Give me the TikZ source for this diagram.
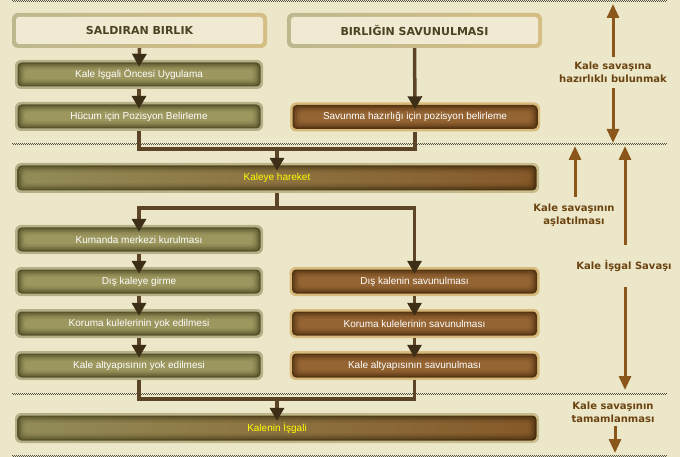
\documentclass[tikz,border=0pt]{standalone}
\usepackage{fontspec}
\setmainfont{Liberation Sans}
\newfontfamily\lblfont{DejaVu Sans}
\usetikzlibrary{arrows.meta}
\definecolor{bg}{HTML}{ECE7C9}
\definecolor{sepc}{HTML}{55554A}
\definecolor{hdrL}{HTML}{BDB88E}
\definecolor{hdrR}{HTML}{D5BD84}
\definecolor{hdrIn}{HTML}{EFEAD1}
\definecolor{hdrT}{HTML}{4A4424}
\definecolor{olB}{HTML}{B5B088}
\definecolor{olR}{HTML}{57532A}
\definecolor{olC}{HTML}{9C975E}
\definecolor{brB}{HTML}{D8BB7C}
\definecolor{brR}{HTML}{553412}
\definecolor{brC}{HTML}{946433}
\definecolor{barBL}{HTML}{B3AE86}
\definecolor{barBR}{HTML}{C9BC8C}
\definecolor{barRL}{HTML}{57532A}
\definecolor{barRR}{HTML}{4A300F}
\definecolor{barCL}{HTML}{928C57}
\definecolor{barCR}{HTML}{87592A}
\definecolor{cn}{HTML}{5C4426}
\definecolor{ah}{HTML}{3D2F17}
\definecolor{ra}{HTML}{8A561A}
\definecolor{lt}{HTML}{6B4310}
\definecolor{ylw}{HTML}{FFFF00}
\newcommand\glowfill[4]{%
  \foreach \i/\p in {2.5/0,4/30,5.5/55,7/75,8.5/90,10/100}{%
    \shade[left color=#2!\p!#1, right color=#4!\p!#3, rounded corners=4pt]
      ([xshift=\i pt,yshift=-\i pt]path picture bounding box.north west) rectangle
      ([xshift=-\i pt,yshift=\i pt]path picture bounding box.south east);}}
\tikzset{
  boxtxt/.style={text=white, font=\fontsize{10}{12}\selectfont},
  ol/.style={rounded corners=6pt, minimum width=248pt, minimum height=29pt, inner sep=0pt,
    fill=olB, path picture={\glowfill{olR}{olC}{olR}{olC}}, boxtxt},
  br/.style={rounded corners=6pt, minimum width=250pt, minimum height=29pt, inner sep=0pt,
    fill=brB, path picture={\glowfill{brR}{brC}{brR}{brC}}, boxtxt},
  bar/.style={rounded corners=6pt, minimum width=524pt, minimum height=30pt, inner sep=0pt,
    left color=barBL, right color=barBR, path picture={\glowfill{barRL}{barCL}{barRR}{barCR}},
    text=ylw, font=\fontsize{10}{12}\selectfont},
  hdr/.style={rounded corners=6pt, minimum width=255pt, minimum height=35pt, inner sep=0pt,
    left color=hdrL, right color=hdrR,
    path picture={\fill[hdrIn, rounded corners=3pt] ([xshift=4pt,yshift=-4pt]path picture bounding box.north west) rectangle ([xshift=-4pt,yshift=4pt]path picture bounding box.south east);},
    text=hdrT, font=\lblfont\bfseries\fontsize{11}{13}\selectfont},
  conn/.style={draw=cn, line width=3.5pt},
  arr/.style={conn, -{Triangle[width=14pt,length=13pt,color=ah]}},
  sepln/.style={draw=sepc, line width=1pt, dash pattern=on 1pt off 1pt},
  rarr/.style={draw=ra, line width=3pt, -{Triangle[width=12pt,length=14pt]}},
  rlbl/.style={text=lt, font=\lblfont\bfseries\fontsize{10}{13}\selectfont, align=center, inner sep=3pt},
}
\begin{document}
\begin{tikzpicture}[x=1pt,y=-1pt]
\useasboundingbox (0,0) rectangle (680,457);
\fill[bg] (0,0) rectangle (680,457);
% separators
\foreach \yy in {1,144,393,455}{
  \draw[sepln] (12,\yy) -- (667,\yy);
  \draw[sepln, dash phase=1pt] (12,\yy+1) -- (667,\yy+1);
}
% boxes
\node[hdr] (sb) at (139.5,30.5) {SALDIRAN BIRLIK};
\node[hdr] (bs) at (414.5,30.5) {BIRLIĞIN SAVUNULMASI};
\node[ol] (k1) at (139,74.5) {Kale İşgali Öncesi Uygulama};
\node[ol] (k2) at (139,116.5) {Hücum için Pozisyon Belirleme};
\node[br] (s1) at (415,117) {Savunma hazırlığı için pozisyon belirleme};
\node[bar] (kh) at (277,178) {Kaleye hareket};
\node[ol] (k3) at (139,239.5) {Kumanda merkezi kurulması};
\node[ol] (k4) at (139,281.5) {Dış kaleye girme};
\node[ol] (k5) at (139,323.5) {Koruma kulelerinin yok edilmesi};
\node[ol] (k6) at (139,365.5) {Kale altyapısının yok edilmesi};
\node[br] (s2) at (414.5,281.5) {Dış kalenin savunulması};
\node[br] (s3) at (414.5,323.5) {Koruma kulelerinin savunulması};
\node[br] (s4) at (414.5,365.5) {Kale altyapısının savunulması};
\node[bar] (ki) at (277,428) {Kalenin İşgali};
% helper coordinates
\coordinate (y1) at (0,149);
\coordinate (y2) at (0,208);
\coordinate (y3) at (0,399);
\coordinate (m1) at (kh.north |- y1);
\coordinate (m2) at (kh.south |- y2);
\coordinate (m3) at (ki.north |- y3);
% connectors
\draw[arr] (sb.south) -- ([yshift=-7pt]k1.north);
\draw[arr] (k1.south) -- ([yshift=-7pt]k2.north);
\draw[arr] (bs.south) -- ([yshift=-7pt]s1.north);
\draw[conn] (k2.south) |- (m1) -| (s1.south);
\draw[arr] (m1) -- ([yshift=-8pt]kh.north);
\draw[conn] (kh.south) -- (m2);
\draw[arr] (m2) -| ([yshift=-7pt]k3.north);
\draw[arr] (m2) -| ([yshift=-7pt]s2.north);
\draw[arr] (k3.south) -- ([yshift=-7pt]k4.north);
\draw[arr] (k4.south) -- ([yshift=-7pt]k5.north);
\draw[arr] (k5.south) -- ([yshift=-7pt]k6.north);
\draw[arr] (s2.south) -- ([yshift=-7pt]s3.north);
\draw[arr] (s3.south) -- ([yshift=-7pt]s4.north);
\draw[conn] (k6.south) |- (m3) -| (s4.south);
\draw[arr] (m3) -- ([yshift=-8pt]ki.north);
% right annotations
\node[rlbl] (lA) at (613,72.5) {Kale savaşına\\hazırlıklı bulunmak};
\coordinate (tA1) at (613,4);
\coordinate (tA2) at (613,143);
\draw[rarr, shorten <=2pt] (lA.north) -- (tA1);
\draw[rarr, shorten <=2pt] (lA.south) -- (tA2);
\node[rlbl] (lB) at (574,215.5) {Kale savaşının\\aşlatılması};
\coordinate (tB) at (575,146);
\draw[rarr, shorten <=4pt] (lB.north -| tB) -- (tB);
\node[rlbl] (lC) at (624,266) {Kale İşgal Savaşı};
\coordinate (tC1) at (625,146);
\coordinate (tC2) at (625,390);
\draw[rarr, shorten <=12pt] (lC.north -| tC1) -- (tC1);
\draw[rarr, shorten <=12pt] (lC.south -| tC2) -- (tC2);
\node[rlbl] (lD) at (613,412.5) {Kale savaşının\\tamamlanması};
\coordinate (tD) at (615,453);
\draw[rarr] (lD.south -| tD) -- (tD);
\end{tikzpicture}
\end{document}
